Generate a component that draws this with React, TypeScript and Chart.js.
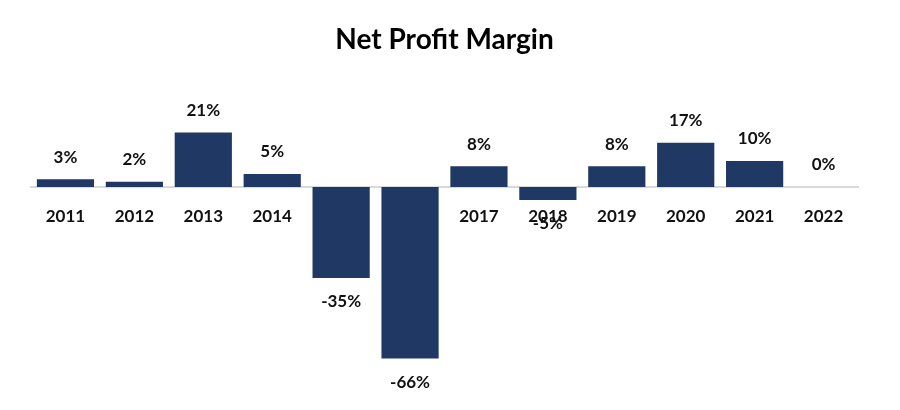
import React, { useEffect, useRef } from "react";
import { Chart, registerables } from "chart.js";

Chart.register(...registerables);

const chartTitle = "Net Profit Margin";
const years = ["2011", "2012", "2013", "2014", "2015", "2016", "2017", "2018", "2019", "2020", "2021", "2022"];
const margins = [3, 2, 21, 5, -35, -66, 8, -5, 8, 17, 10, 0];

const FONT = "Lato, 'Open Sans', sans-serif";

const labelPlugin = {
  id: "valueLabels",
  afterDatasetsDraw(chart: any) {
    const ctx = chart.ctx;
    const meta = chart.getDatasetMeta(0);
    ctx.save();
    ctx.font = `bold 17px ${FONT}`;
    ctx.fillStyle = "#111111";
    ctx.textAlign = "center";
    ctx.textBaseline = "middle";
    meta.data.forEach((bar: any, i: number) => {
      const v = margins[i];
      const y = v < 0 ? bar.y + 24 : bar.y - 22;
      ctx.fillText(`${v}%`, bar.x, y);
    });
    ctx.restore();
  },
};

const titlePlugin = {
  id: "customTitle",
  afterDraw(chart: any) {
    const ctx = chart.ctx;
    const area = chart.chartArea;
    ctx.save();
    ctx.font = `bold 28px ${FONT}`;
    ctx.fillStyle = "#000000";
    ctx.textAlign = "center";
    ctx.textBaseline = "middle";
    ctx.fillText(chartTitle, (area.left + area.right) / 2, 40);
    ctx.restore();
  },
};

export default function App() {
  const ref = useRef<HTMLCanvasElement | null>(null);
  useEffect(() => {
    document.body.style.margin = "0";
    const chart = new Chart(ref.current as HTMLCanvasElement, {
      type: "bar",
      data: {
        labels: years,
        datasets: [
          {
            data: margins,
            backgroundColor: "#1f3864",
            barPercentage: 0.83,
            categoryPercentage: 1,
          },
        ],
      },
      options: {
        animation: false,
        responsive: false,
        maintainAspectRatio: false,
        layout: { padding: { left: 31, right: 42, top: 57, bottom: 15 } },
        plugins: { legend: { display: false }, tooltip: { enabled: false }, title: { display: false } },
        scales: {
          x: {
            position: { y: 0 } as any,
            grid: { display: false, drawTicks: false },
            border: { display: true, color: "#d9d9d9", width: 2 },
            ticks: { color: "#111111", font: { family: FONT, size: 17, weight: "bold" }, padding: 19 },
          },
          y: {
            display: false,
            min: -80,
            max: 50,
          },
        },
      },
      plugins: [labelPlugin, titlePlugin],
    });
    return () => chart.destroy();
  }, []);
  return <canvas ref={ref} width={900} height={410} style={{ display: "block" }} />;
}
